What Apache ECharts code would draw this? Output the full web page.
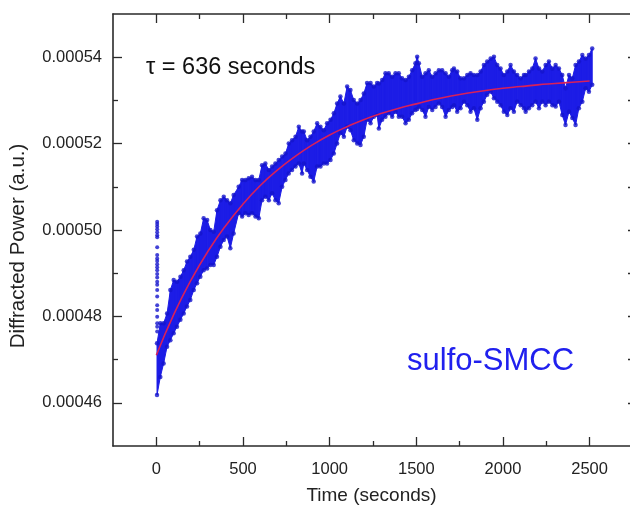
<!DOCTYPE html>
<html><head><meta charset="utf-8">
<script src="https://cdn.jsdelivr.net/npm/echarts@6/dist/echarts.min.js"></script>
<style>html,body{margin:0;padding:0;background:#fff;overflow:hidden}#c{width:630px;height:506px}</style>
</head><body><div id="c"></div>
<script>
// Time samples (s) at which the noisy data band was read
const bandTimes = [
4,23,42,62,81,100,119,139,158,177,
196,216,235,254,273,293,312,331,350,370,
389,408,427,446,475,495,514,533,552,572,
591,610,629,649,668,687,706,726,745,764,
783,803,822,841,851,870,889,908,928,947,
966,985,1005,1024,1043,1062,1082,1101,1120,1139,
1159,1178,1197,1216,1236,1255,1274,1284,1303,1322,
1341,1361,1380,1399,1418,1438,1457,1476,1495,1505,
1515,1534,1553,1572,1592,1611,1630,1649,1669,1688,
1707,1717,1736,1755,1775,1794,1813,1832,1852,1871,
1890,1909,1929,1948,1967,1986,2005,2025,2044,2063,
2082,2102,2121,2131,2150,2169,2188,2208,2227,2246,
2265,2285,2304,2323,2342,2361,2381,2400,2419,2438,
2458,2477,2496,2515];
// Lower edge of the measured points (a.u.)
const bandLow = [
46.18e-5,46.60e-5,46.91e-5,47.30e-5,47.45e-5,47.61e-5,47.76e-5,47.92e-5,48.07e-5,48.23e-5,
48.38e-5,48.61e-5,48.77e-5,48.92e-5,49.07e-5,49.11e-5,49.19e-5,49.19e-5,49.38e-5,49.61e-5,
49.77e-5,49.85e-5,49.58e-5,49.92e-5,50.39e-5,50.31e-5,50.39e-5,50.35e-5,50.39e-5,50.31e-5,
50.27e-5,50.69e-5,50.77e-5,50.69e-5,50.85e-5,50.69e-5,50.62e-5,51.00e-5,51.16e-5,51.31e-5,
51.39e-5,51.47e-5,51.54e-5,51.31e-5,51.54e-5,51.39e-5,51.23e-5,51.12e-5,51.47e-5,51.47e-5,
51.54e-5,51.54e-5,51.62e-5,51.77e-5,52.00e-5,52.24e-5,52.16e-5,52.39e-5,52.31e-5,52.08e-5,
52.00e-5,51.97e-5,52.16e-5,52.55e-5,52.47e-5,52.62e-5,52.66e-5,52.35e-5,52.55e-5,52.62e-5,
52.70e-5,52.62e-5,52.74e-5,52.62e-5,52.62e-5,52.47e-5,52.55e-5,52.70e-5,52.78e-5,52.80e-5,
52.85e-5,52.78e-5,52.62e-5,52.85e-5,52.78e-5,52.85e-5,52.93e-5,52.85e-5,52.62e-5,52.78e-5,
52.85e-5,52.89e-5,52.74e-5,52.82e-5,52.97e-5,52.89e-5,52.74e-5,52.82e-5,52.55e-5,52.82e-5,
52.97e-5,53.13e-5,53.20e-5,53.05e-5,52.97e-5,52.89e-5,52.74e-5,52.66e-5,52.82e-5,52.74e-5,
52.97e-5,52.89e-5,52.82e-5,52.74e-5,52.82e-5,52.89e-5,52.97e-5,52.82e-5,52.97e-5,52.89e-5,
52.97e-5,52.89e-5,52.86e-5,52.97e-5,52.66e-5,52.43e-5,52.74e-5,52.59e-5,52.43e-5,52.82e-5,
52.97e-5,53.28e-5,53.20e-5,53.36e-5];
// Upper edge of the measured points (a.u.)
const bandHigh = [
47.38e-5,47.84e-5,47.84e-5,48.07e-5,48.61e-5,48.84e-5,48.80e-5,48.92e-5,49.07e-5,49.27e-5,
49.38e-5,49.54e-5,49.85e-5,49.92e-5,50.27e-5,50.23e-5,50.00e-5,49.96e-5,50.46e-5,50.69e-5,
50.77e-5,50.69e-5,50.62e-5,50.81e-5,51.00e-5,51.16e-5,51.16e-5,51.20e-5,51.23e-5,51.16e-5,
51.16e-5,51.50e-5,51.54e-5,51.39e-5,51.47e-5,51.54e-5,51.62e-5,51.70e-5,51.77e-5,52.00e-5,
52.08e-5,52.16e-5,52.39e-5,52.28e-5,52.28e-5,52.08e-5,52.16e-5,52.28e-5,52.47e-5,52.39e-5,
52.31e-5,52.47e-5,52.55e-5,52.70e-5,52.93e-5,53.09e-5,52.93e-5,53.32e-5,53.24e-5,53.01e-5,
52.93e-5,53.01e-5,53.16e-5,53.40e-5,53.40e-5,53.32e-5,53.40e-5,53.39e-5,53.47e-5,53.63e-5,
53.63e-5,53.55e-5,53.63e-5,53.63e-5,53.51e-5,53.47e-5,53.55e-5,53.70e-5,53.86e-5,54.01e-5,
53.86e-5,53.55e-5,53.63e-5,53.70e-5,53.55e-5,53.63e-5,53.70e-5,53.70e-5,53.63e-5,53.55e-5,
53.70e-5,53.74e-5,53.67e-5,53.51e-5,53.51e-5,53.59e-5,53.63e-5,53.59e-5,53.59e-5,53.67e-5,
53.82e-5,53.90e-5,53.97e-5,54.01e-5,53.82e-5,53.74e-5,53.59e-5,53.67e-5,53.82e-5,53.67e-5,
53.59e-5,53.51e-5,53.59e-5,53.59e-5,53.67e-5,53.74e-5,53.97e-5,53.74e-5,53.67e-5,53.82e-5,
53.90e-5,53.74e-5,53.82e-5,53.74e-5,53.59e-5,53.28e-5,53.59e-5,53.51e-5,53.82e-5,53.90e-5,
54.05e-5,53.97e-5,54.05e-5,54.20e-5];
// Early transient column of points
const spikeTime = 5;
const spikeValues = [50.19e-5,50.14e-5,50.08e-5,50.02e-5,49.95e-5,49.88e-5,49.83e-5,49.60e-5,49.42e-5,
  49.34e-5,49.28e-5,49.21e-5,49.14e-5,49.07e-5,48.98e-5,48.90e-5,48.80e-5,48.73e-5,48.61e-5,
  48.46e-5,48.26e-5,48.15e-5,47.99e-5,47.84e-5,47.76e-5,47.65e-5];
// Exponential fit curve
const fitTimes = [0,100,200,300,400,500,600,700,800,900,1000,1100,1200,1300,1400,1500,1600,1700,1800,1900,2000,2100,2200,2300,2400,2500];
const fitValues = [47.10e-5,48.04e-5,48.84e-5,49.52e-5,50.10e-5,50.60e-5,51.03e-5,51.39e-5,51.70e-5,51.97e-5,
  52.20e-5,52.39e-5,52.56e-5,52.70e-5,52.82e-5,52.92e-5,53.02e-5,53.10e-5,53.17e-5,53.23e-5,
  53.28e-5,53.32e-5,53.36e-5,53.39e-5,53.42e-5,53.45e-5];
// Axis ticks
const xMajorTicks = [0,500,1000,1500,2000,2500];
const xMinorTicks = [250,750,1250,1750,2250];
const yMajorTicks = [0.00046,0.00048,0.00050,0.00052,0.00054];
const yMinorTicks = [0.00047,0.00049,0.00051,0.00053];

const AX = '#2a2a2a';
const FONT = '"Liberation Sans", Arial, sans-serif';
const BLUE = '#1c1ce6';
const DOT = '#1414cc';

function xAx(pos, ticks, len, major) {
  return {
    type: 'value', min: -250, max: 2733, position: pos,
    axisLine: {show: major, onZero: false, lineStyle: {color: AX, width: 1.6}},
    axisTick: {show: true, inside: true, length: len, customValues: ticks, lineStyle: {color: AX, width: 1.3}},
    axisLabel: (major && pos === 'bottom') ? {show: true, customValues: ticks, margin: 15, fontSize: 16.5, color: '#222', fontFamily: FONT,
      formatter: v => String(v)} : {show: false},
    splitLine: {show: false}
  };
}
function yAx(pos, ticks, len, major) {
  const left = pos === 'left';
  return {
    type: 'value', min: 0.00045, max: 0.00055, position: pos,
    axisLine: {show: major && left, onZero: false, lineStyle: {color: AX, width: 1.6}},
    axisTick: {show: true, inside: true, length: left ? len : 2, customValues: ticks, lineStyle: {color: AX, width: 1.3}},
    axisLabel: (major && left) ? {show: true, customValues: ticks, margin: 11, fontSize: 16.5, color: '#222', fontFamily: FONT,
      formatter: v => v.toFixed(5)} : {show: false},
    splitLine: {show: false}
  };
}

const xAxes = [xAx('bottom', xMajorTicks, 9, true), xAx('bottom', xMinorTicks, 5, false), xAx('top', xMajorTicks, 9, true), xAx('top', xMinorTicks, 5, false)];
xAxes[0].name = 'Time (seconds)';
xAxes[0].nameLocation = 'middle';
xAxes[0].nameGap = 40;
xAxes[0].nameTextStyle = {fontSize: 19, color: '#222', fontFamily: FONT};
const yAxes = [yAx('left', yMajorTicks, 9, true), yAx('left', yMinorTicks, 5, false), yAx('right', yMajorTicks, 9, true), yAx('right', yMinorTicks, 5, false)];
yAxes[0].name = 'Diffracted Power (a.u.)';
yAxes[0].nameLocation = 'middle';
yAxes[0].nameGap = 84;
yAxes[0].nameTextStyle = {fontSize: 20.5, color: '#222', fontFamily: FONT, padding: [0, 32, 0, 0]};

const bandSegments = [];
for (let i = 0; i < bandTimes.length - 1; i++) {
  bandSegments.push([bandTimes[i], bandLow[i], bandHigh[i], bandTimes[i+1], bandLow[i+1], bandHigh[i+1]]);
}
const edgePoints = [];
bandTimes.forEach((t, i) => { edgePoints.push([t, bandLow[i]]); edgePoints.push([t, bandHigh[i]]); });
const spikePoints = spikeValues.map(v => [spikeTime, v]);
const fitPoints = fitTimes.map((t, i) => [t, fitValues[i]]);

const chart = echarts.init(document.getElementById('c'));
chart.setOption({
  animation: false,
  backgroundColor: '#fff',
  grid: {left: 113, top: 14, width: 517, height: 432, containLabel: false, outerBoundsMode: 'none'},
  xAxis: xAxes,
  yAxis: yAxes,
  series: [
    {
      type: 'custom', xAxisIndex: 0, yAxisIndex: 0, data: bandSegments, clip: true, z: 2,
      renderItem: (params, api) => {
        const a = api.coord([api.value(0), api.value(1)]);
        const b = api.coord([api.value(0), api.value(2)]);
        const c = api.coord([api.value(3), api.value(5)]);
        const d = api.coord([api.value(3), api.value(4)]);
        return {type: 'polygon', shape: {points: [a, b, c, d]}, style: {fill: BLUE, stroke: BLUE, lineWidth: 1}};
      }
    },
    {type: 'scatter', xAxisIndex: 0, yAxisIndex: 0, data: edgePoints, symbolSize: 4.5, itemStyle: {color: DOT}, z: 3},
    {type: 'scatter', xAxisIndex: 0, yAxisIndex: 0, data: spikePoints, symbolSize: 4, itemStyle: {color: DOT}, z: 3},
    {type: 'line', xAxisIndex: 0, yAxisIndex: 0, data: fitPoints, smooth: true, showSymbol: false, symbol: 'none',
      lineStyle: {color: '#d8205a', width: 1.6}, z: 5}
  ],
  graphic: [
    {type: 'text', left: 146, top: 56, z: 10, style: {text: 'τ = 636 seconds', font: '23.5px ' + FONT, fill: '#111'}},
    {type: 'text', left: 407, top: 346, z: 10, style: {text: 'sulfo-SMCC', font: '31px ' + FONT, fill: '#2020ee'}}
  ]
});
</script>
</body></html>
